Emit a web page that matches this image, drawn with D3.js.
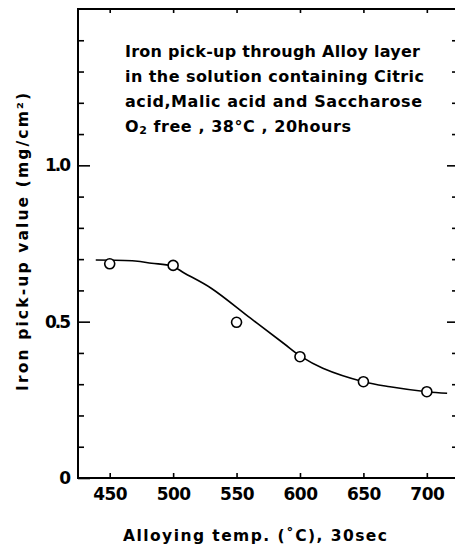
<!DOCTYPE html>
<html>
<head>
<meta charset="utf-8">
<script src="https://cdn.jsdelivr.net/npm/d3@7"></script>
<style>
  html, body { margin: 0; padding: 0; background: #fff; }
  svg { display: block; }
  text { font-family: "DejaVu Sans", "Liberation Sans", Arial, sans-serif; font-weight: bold; fill: #000; }
</style>
</head>
<body>
<svg id="chart" width="455" height="547"></svg>
<script>
// ---- data ----
const pointTemps  = [450, 500, 550, 600, 650, 700];
const pointValues = [0.685, 0.680, 0.498, 0.388, 0.308, 0.276];

const curveTemps  = [439, 470, 483, 499, 509, 530, 561, 587, 601, 618, 650, 671, 700, 716];
const curveValues = [0.697, 0.694, 0.687, 0.678, 0.655, 0.607, 0.511, 0.431, 0.388, 0.351, 0.308, 0.292, 0.276, 0.271];

const xTickValues = [450, 500, 550, 600, 650, 700];
const yMajorTicks = [0, 0.5, 1.0];
const yMajorLabels = ["0", "0.5", "1.0"];
const yMinorTicks = [0.1, 0.2, 0.3, 0.4, 0.6, 0.7, 0.8, 0.9, 1.1, 1.2, 1.3, 1.4];

const annotationLines = [
  "Iron pick-up through Alloy layer",
  "in the solution containing Citric",
  "acid,Malic acid and Saccharose"
];
const xTitle = "Alloying  temp. (˚C),  30sec";
const yTitle = "Iron  pick-up  value  (mg/cm²)";

// ---- layout ----
const plotL = 78, plotR = 456, plotT = 9, plotB = 478;
const svg = d3.select("#chart");
svg.append("rect").attr("width", 455).attr("height", 547).attr("fill", "#fff");

const x = d3.scaleLinear().domain([425, 723]).range([plotL, plotR]);
const y = d3.scaleLinear().domain([0, 1.5]).range([plotB, plotT]);

// frame
const frame = svg.append("g").attr("stroke", "#000").attr("stroke-width", 2).attr("fill", "none");
frame.append("line").attr("x1", plotL).attr("x2", plotL).attr("y1", plotT).attr("y2", plotB + 1);
frame.append("line").attr("x1", plotL - 1).attr("x2", plotR).attr("y1", plotB).attr("y2", plotB);
frame.append("line").attr("x1", plotL - 1).attr("x2", plotR).attr("y1", plotT).attr("y2", plotT);
frame.append("line").attr("x1", plotR).attr("x2", plotR).attr("y1", plotT).attr("y2", plotB);

function styleAxis(g, fontSize) {
  g.select(".domain").remove();
  g.selectAll(".tick line").attr("stroke", "#000").attr("stroke-width", 1.6);
  g.selectAll(".tick text").attr("font-size", fontSize)
    .attr("font-family", "DejaVu Sans, Liberation Sans, Arial, sans-serif")
    .attr("font-weight", "bold").attr("fill", "#000");
}

// bottom axis
svg.append("g").attr("transform", `translate(0,${plotB})`)
  .call(d3.axisBottom(x).tickValues(xTickValues).tickSizeInner(-5).tickSizeOuter(0).tickPadding(10).tickFormat(d3.format("d")))
  .call(g => styleAxis(g, 17))
  .call(g => g.selectAll(".tick text").attr("letter-spacing", -0.5));

// top axis (ticks only)
svg.append("g").attr("transform", `translate(0,${plotT})`)
  .call(d3.axisTop(x).tickValues(xTickValues).tickSizeInner(-4).tickSizeOuter(0).tickFormat(""))
  .call(g => styleAxis(g, 10));

// left axis: major with labels
svg.append("g").attr("transform", `translate(${plotL},0)`)
  .call(d3.axisLeft(y).tickValues(yMajorTicks).tickSizeInner(-12).tickSizeOuter(0).tickPadding(9)
    .tickFormat((d, i) => yMajorLabels[i]))
  .call(g => styleAxis(g, 17))
  .call(g => g.selectAll(".tick text").attr("letter-spacing", -2));
// left minor
svg.append("g").attr("transform", `translate(${plotL},0)`)
  .call(d3.axisLeft(y).tickValues(yMinorTicks).tickSizeInner(-6).tickSizeOuter(0).tickFormat(""))
  .call(g => styleAxis(g, 10));

// right axis
svg.append("g").attr("transform", `translate(${plotR},0)`)
  .call(d3.axisRight(y).tickValues(yMajorTicks.filter(d => d > 0)).tickSizeInner(-9).tickSizeOuter(0).tickFormat(""))
  .call(g => styleAxis(g, 10));
svg.append("g").attr("transform", `translate(${plotR},0)`)
  .call(d3.axisRight(y).tickValues(yMinorTicks).tickSizeInner(-4).tickSizeOuter(0).tickFormat(""))
  .call(g => styleAxis(g, 10));

// curve
const curveData = curveTemps.map((t, i) => [t, curveValues[i]]);
svg.append("path")
  .datum(curveData)
  .attr("fill", "none")
  .attr("stroke", "#000")
  .attr("stroke-width", 1.6)
  .attr("d", d3.line().x(d => x(d[0])).y(d => y(d[1])).curve(d3.curveCatmullRom.alpha(0.5)));

// points
svg.append("g").selectAll("circle")
  .data(pointTemps.map((t, i) => [t, pointValues[i]]))
  .join("circle")
  .attr("cx", d => x(d[0]))
  .attr("cy", d => y(d[1]))
  .attr("r", 5)
  .attr("fill", "#fff")
  .attr("stroke", "#000")
  .attr("stroke-width", 1.6);

// annotation
const ann = svg.append("g").attr("font-size", 16);
const annWidths = [295, 299, 297];
annotationLines.forEach((s, i) => {
  ann.append("text")
    .attr("x", 125).attr("y", 56.5 + i * 25)
    .attr("textLength", annWidths[i]).attr("lengthAdjust", "spacing")
    .text(s);
});
const l4 = ann.append("text").attr("x", 125).attr("y", 131.5)
  .attr("textLength", 226).attr("lengthAdjust", "spacing");
l4.append("tspan").text("O");
l4.append("tspan").attr("font-size", 11).attr("dy", 2).text("2");
l4.append("tspan").attr("dy", -2).text(" free , 38°C , 20hours");

// axis titles
svg.append("text")
  .attr("x", 123).attr("y", 541)
  .attr("font-size", 15.5)
  .attr("textLength", 264).attr("lengthAdjust", "spacing")
  .text(xTitle);

svg.append("text")
  .attr("transform", "translate(28,391) rotate(-90)")
  .attr("x", 0).attr("y", 0)
  .attr("font-size", 15.5)
  .attr("textLength", 298).attr("lengthAdjust", "spacing")
  .text(yTitle);
</script>
</body>
</html>
